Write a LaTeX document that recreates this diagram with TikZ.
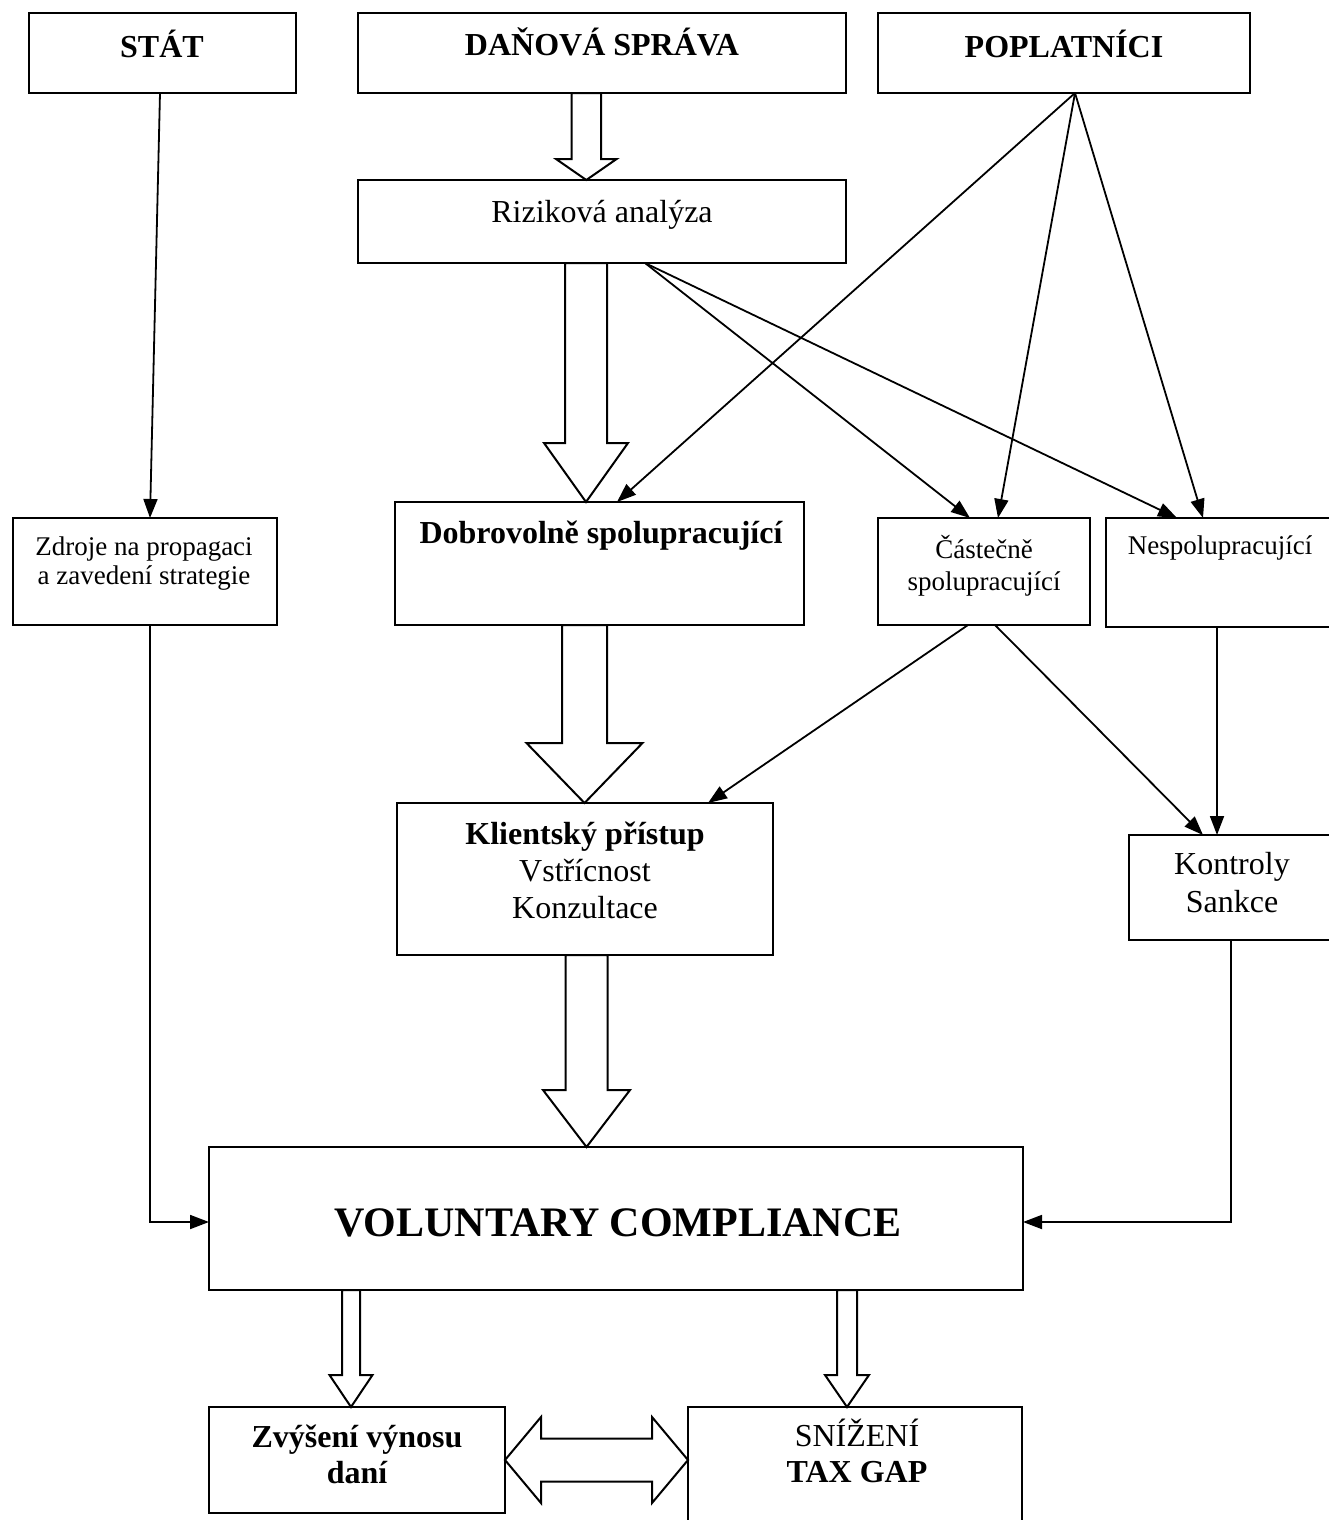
\documentclass[tikz,border=0pt]{standalone}
\usepackage{fontspec}
\setmainfont{Liberation Serif}
\usetikzlibrary{arrows.meta,calc}

% Hollow block arrow pointing down: x centre, upper node, lower node,
% half shaft, half head, head length (all in px = pt).
\newcommand{\blockdown}[6]{%
  \draw[block] let \p1=(#2.south), \p2=(#3.north) in
    (#1pt-#4pt,\y1) -- (#1pt+#4pt,\y1) -- (#1pt+#4pt,\y2+#6pt)
    -- (#1pt+#5pt,\y2+#6pt) -- (#1pt,\y2) -- (#1pt-#5pt,\y2+#6pt)
    -- (#1pt-#4pt,\y2+#6pt) -- cycle;}

\begin{document}
\begin{tikzpicture}[
  x=1pt,y=-1pt,
  box/.style={draw=black, line width=2.2pt, inner sep=0pt, outer sep=0pt},
  lbl/.style={anchor=base, inner sep=0pt, font=\fontsize{32}{38}\selectfont},
  lblb/.style={anchor=base, inner sep=0pt,
    font=\fontsize{32}{38}\selectfont\bfseries},
  lbls/.style={anchor=base, inner sep=0pt, font=\fontsize{27}{32}\selectfont},
  lblh/.style={anchor=base, inner sep=0pt,
    font=\fontsize{42}{50}\selectfont\bfseries},
  link/.style={-{Triangle[length=19pt,width=14pt]}, line width=1.8pt},
  block/.style={draw=black, fill=white, line width=2pt, line join=miter}
]

% Page frame; the two right boxes run past the edge.
\clip (0,0) rectangle (1329,1520);

% Top row.
\node[box, minimum width=267pt, minimum height=80pt] (stat) at (162.5,53) {};
\node[box, minimum width=488pt, minimum height=80pt] (dane) at (602,53) {};
\node[box, minimum width=372pt, minimum height=80pt] (pop) at (1064,53) {};
\node[lblb] (stattxt) at (162,57) {STÁT};
\node[lblb] (danetxt) at (602,56) {DAŇOVÁ SPRÁVA};
\node[lblb] (poptxt) at (1064,57) {POPLATNÍCI};

\node[box, minimum width=488pt, minimum height=83pt] (riziko) at (602,221.5) {};
\node[lbl] (rizikotxt) at (602,222) {Riziková analýza};

% Taxpayer groups.
\node[box, minimum width=264pt, minimum height=107pt] (zdroje) at (145,571.5) {};
\node[lbls] (zdrojetxt1) at (144,555) {Zdroje na propagaci};
\node[lbls] (zdrojetxt2) at (144,584) {a zavedení strategie};

\node[box, minimum width=409pt, minimum height=123pt] (dobro) at (599.5,563.5) {};
\node[lblb] (dobrotxt) at (601,543) {Dobrovolně spolupracující};

\node[box, minimum width=212pt, minimum height=107pt] (castecne) at (984,571.5) {};
\node[lbls] (castecnetxt1) at (984,558) {Částečně};
\node[lbls] (castecnetxt2) at (984,590) {spolupracující};

\node[box, minimum width=229pt, minimum height=109pt] (nespol) at (1220.5,572.5) {};
\node[lbls] (nespoltxt) at (1220,554) {Nespolupracující};

% Treatment.
\node[box, minimum width=376pt, minimum height=152pt] (klient) at (585,879) {};
\node[lblb] (klienttxt1) at (585,844) {Klientský přístup};
\node[lbl] (klienttxt2) at (585,881) {Vstřícnost};
\node[lbl] (klienttxt3) at (585,918) {Konzultace};

\node[box, minimum width=206pt, minimum height=105pt] (kontroly) at (1232,887.5) {};
\node[lbl] (kontrolytxt1) at (1232,874) {Kontroly};
\node[lbl] (kontrolytxt2) at (1232,912) {Sankce};

% Outcome.
\node[box, minimum width=814pt, minimum height=143pt] (vc) at (616,1218.5) {};
\node[lblh] (vctxt) at (618,1236) {VOLUNTARY COMPLIANCE};

\node[box, minimum width=296pt, minimum height=106pt] (zvyseni) at (357,1460) {};
\node[lblb] (zvysenitxt1) at (357,1447) {Zvýšení výnosu};
\node[lblb] (zvysenitxt2) at (357,1483) {daní};

\node[box, minimum width=334pt, minimum height=133pt] (snizeni) at (855,1473.5) {};
\node[lbl] (snizenitxt1) at (857,1446) {SNÍŽENÍ};
\node[lblb] (snizenitxt2) at (857,1482) {TAX GAP};

% Block arrows.
\blockdown{586.3}{dane}{riziko}{14.7}{30.3}{21}
\blockdown{586}{riziko}{dobro}{21}{42}{59}
\blockdown{584.5}{dobro}{klient}{22.5}{58}{60}
\blockdown{586.5}{klient}{vc}{21}{43.5}{57}
\blockdown{351}{vc}{zvyseni}{9}{21.5}{32}
\blockdown{847}{vc}{snizeni}{10}{22}{32}

\draw[block] let \p1=(zvyseni.east), \p2=(snizeni.west) in
  (\x1,\y1) -- (\x1+36pt,\y1+43pt) -- (\x1+36pt,\y1+21.5pt)
  -- (\x2-36pt,\y1+21.5pt) -- (\x2-36pt,\y1+43pt) -- (\x2,\y1)
  -- (\x2-36pt,\y1-43pt) -- (\x2-36pt,\y1-21.5pt)
  -- (\x1+36pt,\y1-21.5pt) -- (\x1+36pt,\y1-43pt) -- cycle;

% Thin links.
\draw[link] ([xshift=-2.5pt]stat.south) -- ([xshift=5pt]zdroje.north);
\draw[link] ([xshift=11pt]pop.south) -- ([xshift=17.5pt]dobro.north);
\draw[link] ([xshift=11pt]pop.south) -- ([xshift=14pt]castecne.north);
\draw[link] ([xshift=11pt]pop.south) -- ([xshift=-17.5pt]nespol.north);
\draw[link] ([xshift=43pt]riziko.south) -- ([xshift=-14pt]castecne.north);
\draw[link] ([xshift=43pt]riziko.south) -- ([xshift=-43.5pt]nespol.north);
\draw[link] ([xshift=-16pt]castecne.south) -- ([xshift=123pt]klient.north);
\draw[link] ([xshift=11pt]castecne.south) -- ([xshift=-29pt]kontroly.north);
\draw[link] ([xshift=-3.5pt]nespol.south) -- ([xshift=-15pt]kontroly.north);
\draw[link] ([xshift=5pt]zdroje.south) |- ([yshift=-3.5pt]vc.west);
\draw[link] ([xshift=-1pt]kontroly.south) |- ([yshift=-3.5pt]vc.east);

\end{tikzpicture}
\end{document}
